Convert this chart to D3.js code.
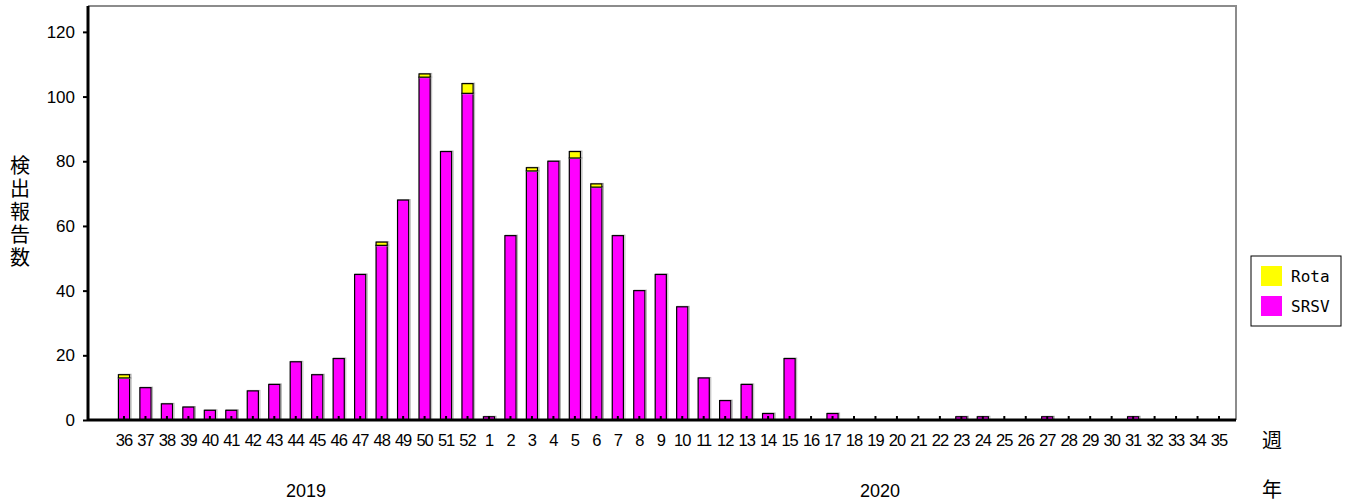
<!DOCTYPE html>
<html>
<head>
<meta charset="utf-8">
<script src="https://cdn.jsdelivr.net/npm/d3@7"></script>
<style>
  body { margin: 0; background: #fff; }
  svg { display: block; }
  text { font-family: "Liberation Sans", Arial, sans-serif; fill: #000; }
</style>
</head>
<body>
<svg id="chart" width="1345" height="504"></svg>
<script>
// weeks 36-52 of 2019 then 1-35 of 2020
const weeks = ["36","37","38","39","40","41","42","43","44","45","46","47","48","49","50","51","52",
  "1","2","3","4","5","6","7","8","9","10","11","12","13","14","15","16","17","18","19","20",
  "21","22","23","24","25","26","27","28","29","30","31","32","33","34","35"]
const srsv = [13,10,5,4,3,3,9,11,18,14,19,45,54,68,106,83,101,
  1,57,77,80,81,72,57,40,45,35,13,6,11,2,19,0,2,0,0,0,
  0,0,1,1,0,0,1,0,0,0,1,0,0,0,0]
const rota = [1,0,0,0,0,0,0,0,0,0,0,0,1,0,1,0,3,
  0,0,1,0,2,1,0,0,0,0,0,0,0,0,0,0,0,0,0,0,
  0,0,0,0,0,0,0,0,0,0,0,0,0,0,0]
const yTicks = [0,20,40,60,80,100,120]
const seriesNames = ["SRSV","Rota"]
const seriesColors = {SRSV: "#ff00ff", Rota: "#ffff00"}

const m = {left: 88, right: 1236, top: 6, bottom: 420}

const svg = d3.select("#chart")

const rows = weeks.map((w, i) => ({week: w, SRSV: srsv[i], Rota: rota[i]}))
const stacked = d3.stack().keys(seriesNames)(rows)

//bars centered at 124 .. 1219, so the band range is a bit inside the frame
const step = (1219 - 124) / (weeks.length - 1)
const x = d3.scaleBand()
  .domain(weeks)
  .range([124 - step / 2, 1219 + step / 2])
  .paddingInner(0.48)
  .paddingOuter(0.24)

const y = d3.scaleLinear().domain([0, 128]).range([m.bottom, m.top])

//grey frame top / right
svg.append("path")
  .attr("d", `M${m.left},${m.top}H${m.right}V${m.bottom}`)
  .attr("fill", "none")
  .attr("stroke", "#8c8c8c")
  .attr("stroke-width", 2)

//bars with a light shadow
const groups = svg.append("g")
  .selectAll("g")
  .data(stacked)
  .join("g")
  .attr("fill", d => seriesColors[d.key])

groups.selectAll("rect.shadow")
  .data(d => d.filter(s => s[1] > s[0]))
  .join("rect")
  .attr("class", "shadow")
  .attr("x", d => x(d.data.week) + 0.5)
  .attr("y", d => y(d[1]) - 0.5)
  .attr("width", x.bandwidth() + 1)
  .attr("height", d => y(d[0]) - y(d[1]) + 1)
  .attr("fill", "none")
  .attr("stroke", "#b4b4b4")
  .attr("stroke-width", 1)

groups.selectAll("rect.bar")
  .data(d => d.filter(s => s[1] > s[0]))
  .join("rect")
  .attr("class", "bar")
  .attr("x", d => x(d.data.week))
  .attr("y", d => y(d[1]))
  .attr("width", x.bandwidth())
  .attr("height", d => y(d[0]) - y(d[1]))
  .attr("stroke", "#000")
  .attr("stroke-width", 1.2)

//y axis
const yAxis = svg.append("g")
  .attr("transform", `translate(${m.left},0)`)
  .call(d3.axisLeft(y).tickValues(yTicks).tickSize(5).tickPadding(8))
yAxis.select(".domain").attr("d", `M0,${m.top}V${m.bottom}`).attr("stroke-width", 3)
yAxis.selectAll(".tick line").attr("stroke-width", 2)
yAxis.selectAll(".tick text").style("font-size", "17px")

//x axis: ticks point up into the plot
const xAxis = svg.append("g")
  .attr("transform", `translate(0,${m.bottom})`)
  .call(d3.axisBottom(x).tickSizeInner(-4).tickSizeOuter(0).tickPadding(14))
xAxis.select(".domain").attr("d", `M${m.left},0H${m.right}`).attr("stroke-width", 3)
xAxis.selectAll(".tick line").attr("stroke-width", 2)
xAxis.selectAll(".tick text")
  .style("font-size", "16.5px")
  .style("letter-spacing", "-1px")
  .attr("dy", "0.71em")

//year labels
svg.append("text").attr("x", 306).attr("y", 497).attr("text-anchor", "middle")
  .style("font-size", "18px").text("2019")
svg.append("text").attr("x", 880).attr("y", 497).attr("text-anchor", "middle")
  .style("font-size", "18px").text("2020")

const cjk = '"Noto Sans CJK JP", sans-serif'
svg.append("text").attr("x", 1272).attr("y", 448).attr("text-anchor", "middle")
  .style("font-family", cjk).style("font-size", "20px").text("週")
svg.append("text").attr("x", 1272).attr("y", 497).attr("text-anchor", "middle")
  .style("font-family", cjk).style("font-size", "20px").text("年")

//vertical y label, one text in vertical writing mode
svg.append("text")
  .attr("x", 20)
  .attr("y", 155)
  .style("writing-mode", "vertical-rl")
  .style("font-family", cjk)
  .style("font-size", "20px")
  .style("letter-spacing", "3px")
  .text("検出報告数")

//legend
const legend = svg.append("g").attr("transform", "translate(1251,256)")
legend.append("rect")
  .attr("width", 90).attr("height", 70)
  .attr("fill", "#fff").attr("stroke", "#000").attr("stroke-width", 1)
const legendItems = ["Rota","SRSV"]
legendItems.forEach((k, i) => {
  legend.append("rect")
    .attr("x", 10).attr("y", 10 + i * 30)
    .attr("width", 21).attr("height", 20)
    .attr("fill", seriesColors[k])
  legend.append("text")
    .attr("x", 40).attr("y", 26 + i * 30)
    .style("font-family", '"DejaVu Sans Mono", monospace')
    .style("font-size", "16px")
    .text(k)
})
</script>
</body>
</html>
